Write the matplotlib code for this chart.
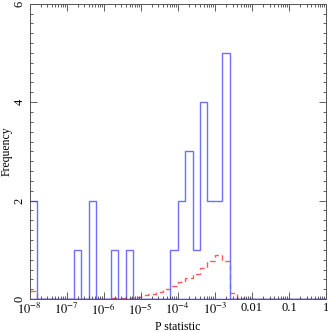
import numpy as np
import matplotlib
matplotlib.use("Agg")
import matplotlib.pyplot as plt
from matplotlib.ticker import FixedLocator, LogLocator, NullFormatter, MultipleLocator

# bins are 0.2 dex wide, from 1e-8 to 1
log_edges = np.round(np.arange(-8.0, 0.001, 0.2), 1)

observed = [2, 0, 0, 0, 0, 0, 1, 0, 2, 0,
            0, 1, 0, 1, 0, 0, 0, 0, 0, 1,
            2, 3, 1, 4, 2, 2, 5, 0, 0, 0,
            0, 0, 0, 0, 0, 0, 0, 0, 0, 0]

expected = [0.17, 0, 0, 0, 0, 0, 0, 0, 0, 0,
            0, 0.02, 0.02, 0.03, 0.05, 0.08, 0.11, 0.15, 0.20, 0.26,
            0.34, 0.42, 0.52, 0.63, 0.77, 0.90, 0.78, 0.12, 0.02, 0,
            0, 0, 0, 0, 0, 0, 0, 0, 0, 0]

xtick_vals = [1e-8, 1e-7, 1e-6, 1e-5, 1e-4, 1e-3, 1e-2, 1e-1, 1]
xtick_labels = [r"$10^{-8}$", r"$10^{-7}$", r"$10^{-6}$", r"$10^{-5}$",
                r"$10^{-4}$", r"$10^{-3}$", "0.01", "0.1", "1"]

plt.rcParams["font.family"] = ["Liberation Serif", "DejaVu Serif"]
plt.rcParams["mathtext.fontset"] = "stix"

fig = plt.figure(figsize=(3.28, 3.32), dpi=100)
ax = fig.add_axes([0.09, 0.099, 0.904, 0.89])

edges = 10.0 ** log_edges
ax.stairs(expected, edges, color="#ff5a5a", lw=1.0, linestyle=(0, (4, 2.5)), baseline=None)
ax.stairs(observed, edges, color="#6f6fff", lw=1.0, baseline=None)
ax.axhline(0, color="#2222cc", lw=1.0)

ax.set_xscale("log")
ax.set_xlim(1e-8, 1)
ax.set_ylim(0, 6)

ax.xaxis.set_major_locator(FixedLocator(xtick_vals))
ax.set_xticklabels(xtick_labels)
ax.xaxis.set_minor_locator(LogLocator(base=10, subs=np.arange(2, 10), numticks=20))
ax.xaxis.set_minor_formatter(NullFormatter())
ax.yaxis.set_major_locator(MultipleLocator(2))
ax.yaxis.set_minor_locator(MultipleLocator(0.2))

ax.tick_params(which="both", direction="in", top=True, right=True, width=0.6, colors="#444444",
               labelcolor="black", labelsize=9)
ax.tick_params(which="major", length=5)
ax.tick_params(which="minor", length=2.5)
ax.tick_params(axis="x", which="major", pad=2)
ax.tick_params(axis="y", which="major", pad=3)
for lbl in ax.get_yticklabels():
    lbl.set_rotation(90)
    lbl.set_va("center")

for s in ax.spines.values():
    s.set_color("#555555")
    s.set_linewidth(0.7)

ax.set_xlabel("P statistic", fontsize=8.5, va="center")
ax.set_ylabel("Frequency", fontsize=8.5, va="center")
ax.xaxis.set_label_coords(0.5, -0.096)
ax.yaxis.set_label_coords(-0.077, 0.5)

fig.savefig("out.png", dpi=100)
